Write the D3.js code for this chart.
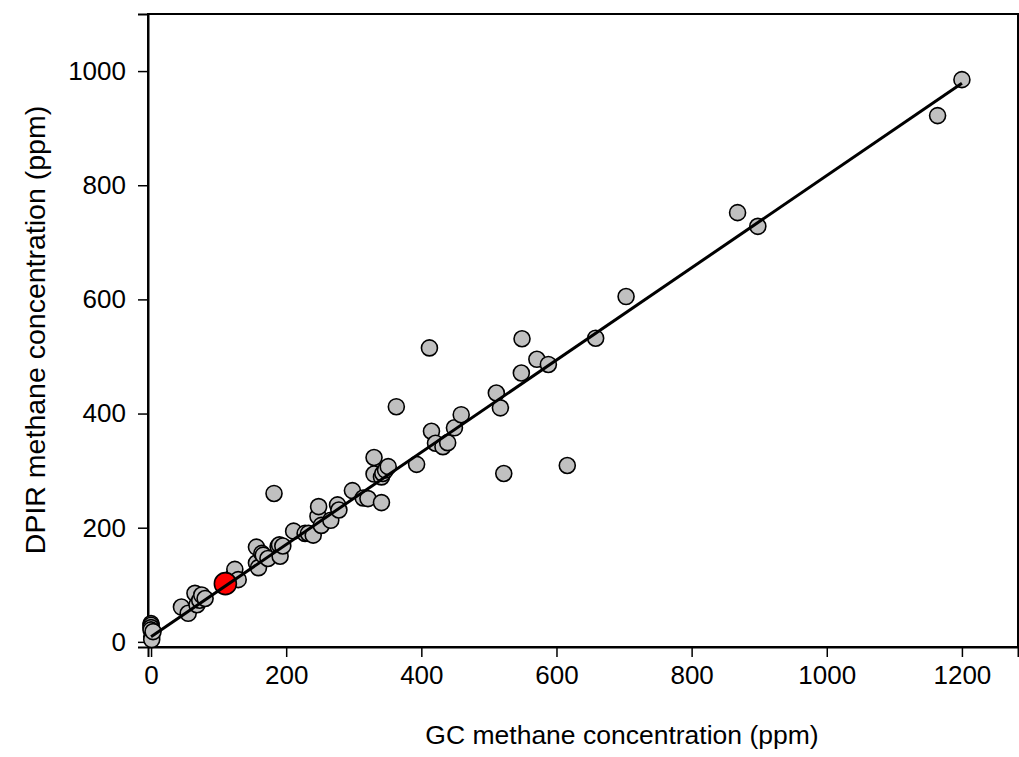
<!DOCTYPE html>
<html>
<head>
<meta charset="utf-8">
<script src="https://cdn.jsdelivr.net/npm/d3@7"></script>
<style>
  body { margin: 0; background: #fff; }
  text { font-family: Arial, "Liberation Sans", sans-serif; fill: #000; }
</style>
</head>
<body>
<script>
var WIDTH = 1019, HEIGHT = 757;

// GC (x) vs DPIR (y) methane concentrations, ppm
var gcValues = [0, 0, 0, 0, 1, 1, 3,
  45, 55, 65, 68, 72, 75, 80,
  115, 121, 124, 129,
  156, 156, 159, 164, 166, 173, 182, 188, 190, 191, 195,
  211, 228, 233, 240, 247, 248, 252, 266, 276, 278,
  298, 314, 321, 330, 330, 341, 341, 343, 347, 351, 393,
  363, 412, 415, 421, 432, 439, 449, 459,
  511, 517, 522, 548, 549, 571, 588, 616, 658, 703,
  868, 898, 1164, 1200];
var dpirValues = [32, 29, 25, 21, 9, 4, 18,
  61, 50, 85, 65, 73, 82, 76,
  105, 114, 127, 109,
  166, 138, 130, 155, 152, 146, 260, 167, 170, 150, 168,
  194, 190, 190, 187, 220, 237, 204, 213, 240, 231,
  265, 252, 251, 323, 294, 289, 244, 295, 301, 307, 311,
  412, 515, 369, 348, 342, 349, 375, 398,
  436, 410, 295, 471, 531, 495, 486, 309, 532, 605,
  752, 728, 922, 985];

// highlighted sample
var highlightGC = [110];
var highlightDPIR = [102];

// linear fit
var fitIntercept = 9;
var fitSlope = 0.808;
var fitRange = [0, 1200];

var xTicks = [0, 200, 400, 600, 800, 1000, 1200];
var yTicks = [0, 200, 400, 600, 800, 1000];

var _svg, _xScale, _yScale;

var createChart = function(){
  _svg = d3.select('body').append('svg')
    .attr('width', WIDTH)
    .attr('height', HEIGHT);

  _xScale = d3.scaleLinear().domain([-4.5, 1283]).range([148, 1018]);
  _yScale = d3.scaleLinear().domain([-9, 1100]).range([647, 14]);

  // frame
  _svg.append('rect')
    .attr('x', 148).attr('y', 14)
    .attr('width', 870).attr('height', 633)
    .attr('fill', 'none')
    .attr('stroke', '#000')
    .attr('stroke-width', 2);

  var xAxis = d3.axisBottom(_xScale).tickValues(xTicks).tickFormat(d3.format('d'))
    .tickSize(10).tickPadding(9);
  var yAxis = d3.axisLeft(_yScale).tickValues(yTicks).tickFormat(d3.format('d'))
    .tickSize(10).tickPadding(12);

  var gx = _svg.append('g').attr('transform', 'translate(0,647)').call(xAxis);
  var gy = _svg.append('g').attr('transform', 'translate(148,0)').call(yAxis);

  [gx, gy].forEach(function(g){
    g.select('.domain').attr('stroke', '#000').attr('stroke-width', 2);
    g.selectAll('.tick line').attr('stroke', '#000').attr('stroke-width', 1.5);
    g.selectAll('.tick text').style('font-size', '26px').attr('fill', '#000');
  });

  var points = gcValues.map(function(d, i){ return [d, dpirValues[i]]; });

  _svg.append('g').selectAll('circle').data(points)
    .enter().append('circle')
    .attr('cx', function(d){ return _xScale(d[0]); })
    .attr('cy', function(d){ return _yScale(d[1]); })
    .attr('r', 8)
    .attr('fill', '#c0c0c0')
    .attr('stroke', '#000')
    .attr('stroke-width', 1.6);

  _svg.append('g').selectAll('circle').data(highlightGC)
    .enter().append('circle')
    .attr('cx', function(d){ return _xScale(d); })
    .attr('cy', function(d, i){ return _yScale(highlightDPIR[i]); })
    .attr('r', 11)
    .attr('fill', '#ff0000')
    .attr('stroke', '#000')
    .attr('stroke-width', 1.6);

  var line = d3.line()
    .x(function(d){ return _xScale(d); })
    .y(function(d){ return _yScale(fitIntercept + fitSlope * d); });

  _svg.append('path')
    .datum(fitRange)
    .attr('d', line)
    .attr('fill', 'none')
    .attr('stroke', '#000')
    .attr('stroke-width', 3);

  _svg.append('text')
    .attr('x', 622).attr('y', 744)
    .attr('text-anchor', 'middle')
    .style('font-size', '26.5px')
    .text('GC methane concentration (ppm)');

  _svg.append('text')
    .attr('transform', 'translate(45,330) rotate(-90)')
    .attr('text-anchor', 'middle')
    .style('font-size', '28.5px')
    .text('DPIR methane concentration (ppm)');
};

createChart();
</script>
</body>
</html>
